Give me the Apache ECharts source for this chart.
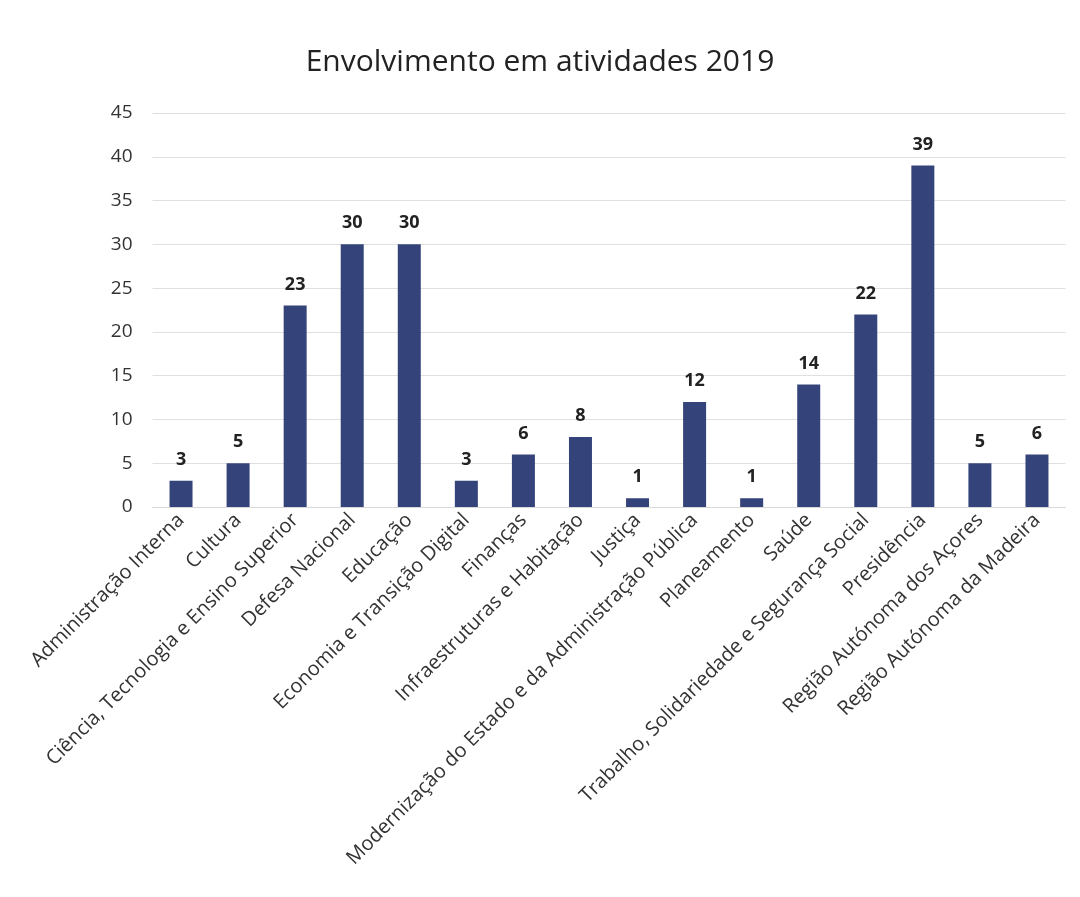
<!DOCTYPE html>
<html>
<head>
<meta charset="utf-8">
<script src="https://cdn.jsdelivr.net/npm/echarts@6/dist/echarts.min.js"></script>
<style>
html,body{margin:0;padding:0;background:#fff;}
#c{width:1080px;height:897px;}
</style>
</head>
<body>
<div id="c"></div>
<script>
const categories = [
  "Administração Interna",
  "Cultura",
  "Ciência, Tecnologia e Ensino Superior",
  "Defesa Nacional",
  "Educação",
  "Economia e Transição Digital",
  "Finanças",
  "Infraestruturas e Habitação",
  "Justiça",
  "Modernização do Estado e da Administração Pública",
  "Planeamento",
  "Saúde",
  "Trabalho, Solidariedade e Segurança Social",
  "Presidência",
  "Região Autónoma dos Açores",
  "Região Autónoma da Madeira"
];
const values = [3, 5, 23, 30, 30, 3, 6, 8, 1, 12, 1, 14, 22, 39, 5, 6];
const titleText = "Envolvimento em atividades 2019";

const chart = echarts.init(document.getElementById('c'));
chart.setOption({
  backgroundColor: '#ffffff',
  animation: false,
  title: {
    text: titleText,
    left: 'center',
    top: 42,
    textStyle: { fontFamily: 'Open Sans', fontSize: 30, fontWeight: 'normal', color: '#222' }
  },
  grid: { left: 152.5, right: 14.5, top: 113, bottom: 390, containLabel: false },
  xAxis: {
    type: 'category',
    data: categories,
    axisLine: { show: true, lineStyle: { color: '#d9d9d9' } },
    axisTick: { show: false },
    axisLabel: {
      interval: 0,
      rotate: 45,
      margin: 10,
      fontFamily: 'Open Sans',
      fontSize: 20,
      color: '#333'
    }
  },
  yAxis: {
    type: 'value',
    min: 0,
    max: 45,
    interval: 5,
    axisLine: { show: false },
    axisTick: { show: false },
    splitLine: { lineStyle: { color: '#e0e0e0' } },
    axisLabel: { margin: 20, fontFamily: 'Open Sans', fontSize: 19, color: '#333' }
  },
  series: [{
    type: 'bar',
    data: values,
    barWidth: 23,
    itemStyle: { color: '#34447a' },
    label: {
      show: true,
      position: 'top',
      distance: 12,
      fontFamily: 'Open Sans',
      fontWeight: 'bold',
      fontSize: 18,
      color: '#222'
    }
  }]
});
</script>
</body>
</html>
